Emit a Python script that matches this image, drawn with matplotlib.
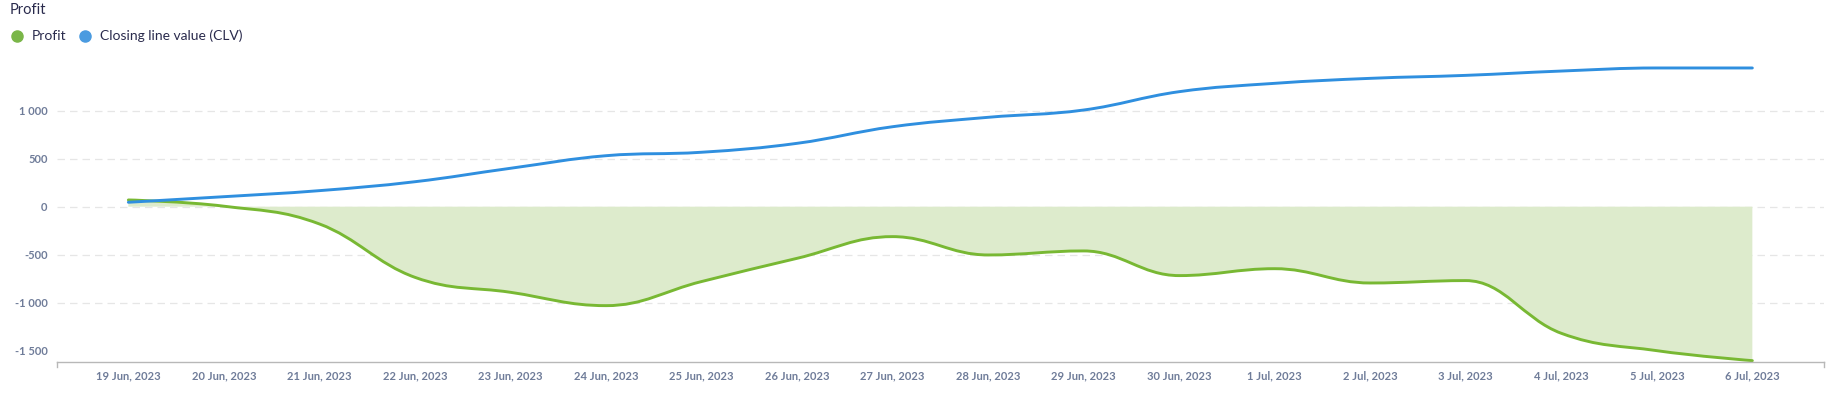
import matplotlib
matplotlib.use("Agg")
import matplotlib.pyplot as plt
import numpy as np
from matplotlib.path import Path
from matplotlib.patches import PathPatch
from matplotlib.lines import Line2D

plt.rcParams['font.family'] = ['Lato', 'DejaVu Sans']

dates = ["19 Jun, 2023", "20 Jun, 2023", "21 Jun, 2023", "22 Jun, 2023",
         "23 Jun, 2023", "24 Jun, 2023", "25 Jun, 2023", "26 Jun, 2023",
         "27 Jun, 2023", "28 Jun, 2023", "29 Jun, 2023", "30 Jun, 2023",
         "1 Jul, 2023", "2 Jul, 2023", "3 Jul, 2023", "4 Jul, 2023",
         "5 Jul, 2023", "6 Jul, 2023"]
profit = [70, 5, -180, -736, -892, -1031, -780, -538, -312, -503, -461,
          -718, -646, -795, -770, -1319, -1500, -1604]
clv = [46, 104, 167, 260, 400, 531, 567, 660, 833, 931, 1007, 1198, 1285,
       1337, 1368, 1413, 1445, 1445]
y_ticks = [-1500, -1000, -500, 0, 500, 1000]

GREEN = '#78b833'
GREEN_FILL = '#ddebcc'
BLUE = '#2f8fdf'
NAVY = '#2a2b4d'
TICK = '#6f7c99'


def spline_path(xs, ys, smoothing=1.5):
    # same smoothing rule as a Highcharts "spline" series
    n = len(xs)
    denom = smoothing + 1
    left = [(xs[i], ys[i]) for i in range(n)]
    right = [(xs[i], ys[i]) for i in range(n)]
    for i in range(1, n - 1):
        x, y = xs[i], ys[i]
        lx, ly = xs[i - 1], ys[i - 1]
        nx, ny = xs[i + 1], ys[i + 1]
        lcx = (smoothing * x + lx) / denom
        lcy = (smoothing * y + ly) / denom
        rcx = (smoothing * x + nx) / denom
        rcy = (smoothing * y + ny) / denom
        corr = (rcy - lcy) * (rcx - x) / (rcx - lcx) + y - rcy
        lcy += corr
        rcy += corr
        if lcy > ly and lcy > y:
            lcy = max(ly, y); rcy = 2 * y - lcy
        elif lcy < ly and lcy < y:
            lcy = min(ly, y); rcy = 2 * y - lcy
        if rcy > ny and rcy > y:
            rcy = max(ny, y); lcy = 2 * y - rcy
        elif rcy < ny and rcy < y:
            rcy = min(ny, y); lcy = 2 * y - rcy
        left[i] = (lcx, lcy)
        right[i] = (rcx, rcy)
    verts = [(xs[0], ys[0])]
    codes = [Path.MOVETO]
    for i in range(1, n):
        verts += [right[i - 1], left[i], (xs[i], ys[i])]
        codes += [Path.CURVE4] * 3
    return verts, codes


fig = plt.figure(figsize=(18.44, 3.93), dpi=100)
W, H = 1844, 393
ax = fig.add_axes([56.7 / W, 1 - 361.7 / H, (1824 - 56.7) / W, (361.7 - 65) / H])

x = np.arange(len(dates))
ax.set_xlim(-0.75, len(dates) - 0.25)
ax.set_ylim(-1615, 1476)

# grid
for v in y_ticks:
    if v != -1500:
        ax.axhline(v, color='#e6e6e6', lw=0.9, ls=(0, (6, 4)), zorder=0)

# profit area
pv, pc = spline_path(list(x), profit)
fill_verts = pv + [(x[-1], 0), (x[0], 0), pv[0]]
fill_codes = pc + [Path.LINETO, Path.LINETO, Path.CLOSEPOLY]
ax.add_patch(PathPatch(Path(fill_verts, fill_codes), facecolor=GREEN_FILL,
                       edgecolor='none', zorder=1))
ax.add_patch(PathPatch(Path(pv, pc), facecolor='none', edgecolor=GREEN,
                       lw=2.1, zorder=2, clip_on=False, capstyle='round'))

# CLV line
cv, cc = spline_path(list(x), clv)
ax.add_patch(PathPatch(Path(cv, cc), facecolor='none', edgecolor=BLUE,
                       lw=2.1, zorder=3, clip_on=False, capstyle='round'))

for s in ['top', 'right', 'left']:
    ax.spines[s].set_visible(False)
ax.spines['bottom'].set_color('#b8b8b8')
ax.spines['bottom'].set_linewidth(1.0)

# end tick marks on the x axis
for xe in (0, 1):
    ax.plot([xe, xe], [0, -0.018], transform=ax.transAxes, color='#b8b8b8',
            lw=1.0, clip_on=False)

ax.set_xticks(x)
ax.set_xticklabels(dates)
ax.set_yticks(y_ticks)
ax.set_yticklabels([f"{v:,}".replace(",", " ") for v in y_ticks])
ax.tick_params(axis='x', length=0, pad=6, labelsize=8, labelcolor=TICK)
ax.tick_params(axis='y', length=0, pad=6.5, labelsize=8, labelcolor=TICK)
for lab in ax.get_xticklabels() + ax.get_yticklabels():
    lab.set_fontweight('bold')

# title and legend
fig.text(10 / W, 1 - 9.5 / H, "Profit", fontsize=10.5, color=NAVY, va='center')
fig.add_artist(Line2D([16.7 / W], [1 - 36 / H], marker='o', markersize=8,
                      color='#7ab648', transform=fig.transFigure))
fig.text(31.7 / W, 1 - 36 / H, "Profit", fontsize=10, color=NAVY, va='center')
fig.add_artist(Line2D([85 / W], [1 - 36 / H], marker='o', markersize=8,
                      color='#4a9be0', transform=fig.transFigure))
fig.text(100 / W, 1 - 36 / H, "Closing line value (CLV)", fontsize=10,
         color=NAVY, va='center')

fig.savefig("out.png", dpi=100)
